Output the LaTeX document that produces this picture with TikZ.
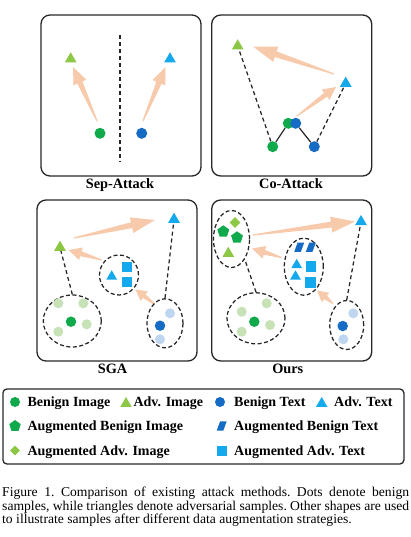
\documentclass[tikz,border=0pt]{standalone}
\usepackage{fontspec}
\setmainfont{Liberation Serif}
\newfontfamily\capfont[FakeStretch=1.01]{Liberation Serif}
\usetikzlibrary{shapes.geometric,calc}
\definecolor{cgreen}{RGB}{16,170,76}
\definecolor{cgreenL}{RGB}{140,200,70}
\definecolor{cgreenF}{RGB}{198,226,182}
\definecolor{cblue}{RGB}{22,108,196}
\definecolor{cblueL}{RGB}{20,168,236}
\definecolor{cblueF}{RGB}{190,214,240}
\definecolor{cpeach}{RGB}{248,202,172}
\definecolor{cframe}{RGB}{40,40,40}
\tikzset{
 dotst/.style={circle, fill=#1, inner sep=0pt, minimum size=11pt},
 fdot/.style={circle, fill=#1, inner sep=0pt, minimum size=10pt},
 trist/.style={regular polygon, regular polygon sides=3, fill=#1, inner sep=0pt, minimum size=13.5pt},
 sqst/.style={rectangle, fill=#1, inner sep=0pt, minimum size=10pt},
 pentst/.style={regular polygon, regular polygon sides=5, fill=#1, inner sep=0pt, minimum size=12.5pt},
 diast/.style={diamond, fill=#1, inner sep=0pt, minimum size=11pt},
 panelst/.style={rectangle, draw=cframe, line width=1.3pt, rounded corners=9pt, minimum width=160pt, minimum height=161pt, inner sep=0pt},
 lblst/.style={anchor=base, inner sep=0pt, font=\fontsize{14.3}{16}\selectfont\bfseries},
 legtext/.style={anchor=base west, inner sep=0pt, font=\fontsize{14}{16}\selectfont\bfseries},
 dashline/.style={draw=black!85, line width=1.25pt, dash pattern=on 4pt off 3pt},
 solidline/.style={draw=black!85, line width=1.2pt},
 ellst/.style={ellipse, draw=black!85, line width=1.25pt, dash pattern=on 4pt off 2.5pt, inner sep=0pt},
}
% peach arrow: #1 from, #2 to, #3 head length, #4 head half width, #5 body half width
\newcommand\peacharrow[5]{%
 \coordinate (hb) at ($(#2)!#3!(#1)$);
 \fill[cpeach] ($(#1)!0.6pt!90:(#2)$) -- ($(hb)!#5!-90:(#1)$) -- ($(hb)!#4!-90:(#1)$) -- (#2)
   -- ($(hb)!#4!90:(#1)$) -- ($(hb)!#5!90:(#1)$) -- ($(#1)!0.6pt!-90:(#2)$) -- cycle;}
% parallelogram centred on a named coordinate: #1 name, #2 x, #3 y
\newcommand\paragr[3]{%
 \coordinate (#1) at (#2,#3);
 \fill[cblue] ($(#1)+(-1.6,-4.6)$) -- ($(#1)+(5,-4.6)$) -- ($(#1)+(1.6,4.6)$) -- ($(#1)+(-5,4.6)$) -- cycle;}
\begin{document}
\begin{tikzpicture}[x=1pt,y=-1pt]
\useasboundingbox (0,0) rectangle (411,537);
\fill[white] (0,0) rectangle (411,537);

% ---------- Panel 1: Sep-Attack ----------
\node[panelst] (P1) at (121,95.5) {};
\node[lblst] (L1) at (120,188.5) {Sep-Attack};
\coordinate (p1a1) at (97,121); \coordinate (p1a2) at (73,67);
\coordinate (p1a3) at (143,121); \coordinate (p1a4) at (165.5,67);
\peacharrow{p1a1}{p1a2}{17pt}{7pt}{2.8pt}
\peacharrow{p1a3}{p1a4}{17pt}{7pt}{2.8pt}
\node[trist=cgreenL] (p1gt) at (70.7,59) {};
\node[trist=cblueL] (p1bt) at (170,59) {};
\node[dotst=cgreen] (p1gd) at (100,133.3) {};
\node[dotst=cblue] (p1bd) at (141.7,133.3) {};
\coordinate (p1s1) at (120,35); \coordinate (p1s2) at (120,161.7);
\draw[dashline] (p1s1) -- (p1s2);

% ---------- Panel 2: Co-Attack ----------
\node[panelst] (P2) at (291.7,95.5) {};
\node[lblst] (L2) at (291,188.5) {Co-Attack};
\coordinate (p2a1) at (297,116); \coordinate (p2a2) at (336,87);
\coordinate (p2a3) at (334,74); \coordinate (p2a4) at (253,46.5);
\peacharrow{p2a1}{p2a2}{13pt}{6.5pt}{2.5pt}
\peacharrow{p2a3}{p2a4}{24pt}{8pt}{3pt}
\node[trist=cgreenL] (p2gt) at (237.7,46) {};
\node[trist=cblueL] (p2bt) at (345.7,83.4) {};
\node[dotst=cgreen] (p2g1) at (272.7,146.7) {};
\node[dotst=cgreen] (p2g2) at (288.3,123.3) {};
\node[dotst=cblue] (p2b2) at (295.7,123.3) {};
\node[dotst=cblue] (p2b1) at (314.3,146.7) {};
\draw[solidline] (p2g1) -- (p2g2);
\draw[solidline] (p2b2) -- (p2b1);
\draw[dashline] (p2g1) -- (p2gt);
\draw[dashline] (p2b1) -- (p2bt);

% ---------- Panel 3: SGA ----------
\node[panelst] (P3) at (117,280.5) {};
\node[lblst] (L3) at (112.5,373.3) {SGA};
\coordinate (p3a1) at (74,238); \coordinate (p3a2) at (155,220);
\coordinate (p3a3) at (101.5,260); \coordinate (p3a4) at (68.5,250);
\coordinate (p3a5) at (155,304.5); \coordinate (p3a6) at (135.5,289.5);
\peacharrow{p3a1}{p3a2}{24pt}{8pt}{3pt}
\peacharrow{p3a3}{p3a4}{13pt}{6.5pt}{2.5pt}
\peacharrow{p3a5}{p3a6}{11pt}{6pt}{2.3pt}
\node[trist=cgreenL] (p3gt) at (60,247.4) {};
\node[trist=cblueL] (p3bt) at (174,219.4) {};
\node[ellst, minimum width=39pt, minimum height=40pt] (e3c) at (119,275) {};
\node[trist=cblueL, minimum size=12.5pt] (p3t) at (111.7,276.5) {};
\node[sqst=cblueL] (p3s1) at (126.7,266.7) {};
\node[sqst=cblueL] (p3s2) at (126.7,282.3) {};
\node[ellst, minimum width=58pt, minimum height=52pt] (e3a) at (72.3,321) {};
\node[fdot=cgreenF] (p3f1) at (58.3,303.3) {};
\node[fdot=cgreenF] (p3f2) at (83.3,303.3) {};
\node[fdot=cgreenF] (p3f3) at (86.7,324.3) {};
\node[fdot=cgreenF] (p3f4) at (58.3,331.7) {};
\node[dotst=cgreen, minimum size=10.5pt] (p3gd) at (71,321.7) {};
\node[ellst, minimum width=36pt, minimum height=49pt] (e3b) at (165,323.3) {};
\node[fdot=cblueF] (p3f5) at (170,313.3) {};
\node[dotst=cblue, minimum size=10.5pt] (p3bd) at (160,325.7) {};
\node[fdot=cblueF] (p3f6) at (160,339.3) {};
\draw[dashline] (e3a.north) -- (p3gt);
\draw[dashline] (e3b.north) -- (p3bt);

% ---------- Panel 4: Ours ----------
\node[panelst] (P4) at (291.7,280.5) {};
\node[lblst] (L4) at (287.8,373.3) {Ours};
\coordinate (p4a1) at (253,235); \coordinate (p4a2) at (355,221.5);
\coordinate (p4a3) at (281.5,257.5); \coordinate (p4a4) at (252,248.5);
\coordinate (p4a5) at (333,303.5); \coordinate (p4a6) at (317,290.5);
\peacharrow{p4a1}{p4a2}{24pt}{8pt}{3pt}
\peacharrow{p4a3}{p4a4}{13pt}{6.5pt}{2.5pt}
\peacharrow{p4a5}{p4a6}{11pt}{6pt}{2.3pt}
\node[trist=cblueL] (p4bt) at (361,221.7) {};
\node[ellst, minimum width=36pt, minimum height=57pt] (e4a) at (231.5,239) {};
\node[diast=cgreenL] (p4dia) at (235,222.5) {};
\node[pentst=cgreen] (p4pen1) at (223.3,231.5) {};
\node[pentst=cgreen] (p4pen2) at (237,237.5) {};
\node[trist=cgreenL] (p4gt) at (228.3,253.5) {};
\node[ellst, minimum width=39pt, minimum height=57pt] (e4b) at (303.8,266.7) {};
\paragr{p4pa1}{299.2}{247.3}
\paragr{p4pa2}{310.8}{247.3}
\node[trist=cblueL, minimum size=12.5pt] (p4t1) at (296.7,265) {};
\node[trist=cblueL, minimum size=12.5pt] (p4t2) at (295.5,276.5) {};
\node[sqst=cblueL, minimum size=10.5pt] (p4s1) at (311,266.7) {};
\node[sqst=cblueL, minimum size=10.5pt] (p4s2) at (310.5,282.3) {};
\node[ellst, minimum width=58pt, minimum height=51pt] (e4c) at (256,318.3) {};
\node[fdot=cgreenF] (p4f1) at (241.7,311.7) {};
\node[fdot=cgreenF] (p4f2) at (266.7,303.3) {};
\node[fdot=cgreenF] (p4f3) at (270,325) {};
\node[fdot=cgreenF] (p4f4) at (241.7,331.7) {};
\node[dotst=cgreen, minimum size=10.5pt] (p4gd) at (254.3,321.7) {};
\node[ellst, minimum width=34pt, minimum height=49pt] (e4d) at (346.7,325) {};
\node[fdot=cblueF] (p4f5) at (353.3,313.3) {};
\node[dotst=cblue, minimum size=10.5pt] (p4bd) at (342.7,326) {};
\node[fdot=cblueF] (p4f6) at (343.3,339.3) {};
\draw[dashline] (e4c.north) -- (e4a.-57);
\draw[dashline] (e4d.north) -- (p4bt);

% ---------- Legend ----------
\node[rectangle, draw=cframe, line width=1.3pt, rounded corners=4pt, minimum width=401pt, minimum height=75pt, inner sep=0pt] (LG) at (203.4,426.5) {};
\node[dotst=cgreen, minimum size=10pt] (ld1) at (15,402) {};
\node[legtext] (lt1) at (27.3,406.6) {Benign Image};
\node[trist=cgreenL, minimum size=13pt] (ld2) at (126,403.5) {};
\node[legtext] (lt2) at (133.3,406.6) {Adv. Image};
\node[dotst=cblue, minimum size=10pt] (ld3) at (220,402) {};
\node[legtext] (lt3) at (234,406.6) {Benign Text};
\node[trist=cblueL, minimum size=13pt] (ld4) at (321.7,403.5) {};
\node[legtext] (lt4) at (334,406.6) {Adv. Text};
\node[pentst=cgreen, minimum size=12pt] (ld5) at (15,426) {};
\node[legtext] (lt5) at (27.3,430.6) {Augmented Benign Image};
\paragr{ld6}{221.7}{426}
\node[legtext] (lt6) at (234,430.6) {Augmented Benign Text};
\node[diast=cgreenL, minimum size=10pt] (ld7) at (15,450.5) {};
\node[legtext] (lt7) at (27.3,455.1) {Augmented Adv. Image};
\node[sqst=cblueL] (ld8) at (221.7,450.5) {};
\node[legtext] (lt8) at (234,455.1) {Augmented Adv. Text};

% ---------- Caption ----------
\node[anchor=north west, inner sep=0pt, text width=407pt, align=justify, font=\capfont\fontsize{13.5}{13.3}\selectfont\frenchspacing] (cap) at (2,487)
{Figure 1. Comparison of existing attack methods. Dots denote benign\linebreak samples, while triangles denote adversarial samples. Other shapes are used\linebreak to illustrate samples after different data augmentation strategies.};
\end{tikzpicture}
\end{document}
